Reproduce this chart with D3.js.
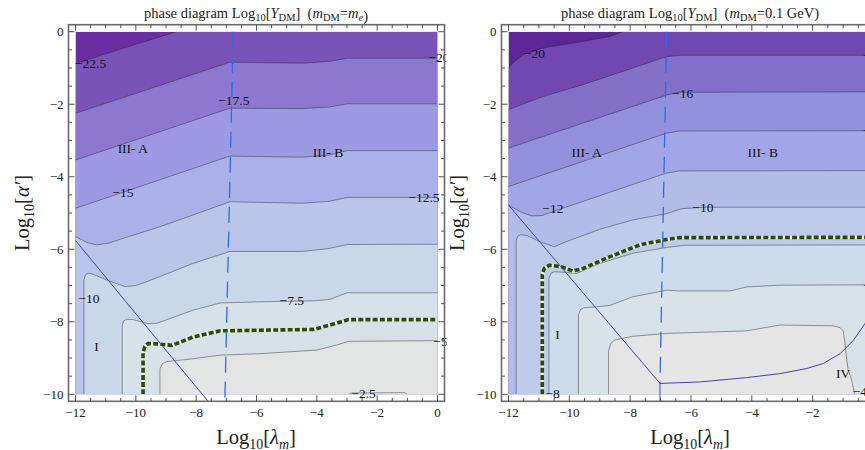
<!DOCTYPE html>
<html>
<head>
<meta charset="utf-8">
<script src="https://d3js.org/d3.v7.min.js"></script>
<style>
body { margin: 0; background: #fff; }
svg { display: block; font-family: "Liberation Serif", "DejaVu Serif", serif; }
</style>
</head>
<body>
<svg id="chart" width="865" height="450"></svg>
<script>
// ---------- data (log10 lambda_m , log10 alpha') ----------
const lambdaTicks = [-12, -10, -8, -6, -4, -2, 0];
const alphaTicks = [0, -2, -4, -6, -8, -10];

// left panel: m_DM = m_e, contour levels -22.5 ... -2.5
const leftLevels = [-22.5, -20, -17.5, -15, -12.5, -10, -7.5, -5, -2.5];
const leftColors = ['#6a2ea2', '#7a53b8', '#8c78d0', '#9d9ae3', '#acb0e8', '#bbc5ea', '#c9d7ea', '#d6e1e9', '#e2e5e4', '#e9e6dd'];
const leftC225 = [[-12, -0.88], [-10.5, -0.48], [-9.5, -0.22], [-8.65, 0]];
const leftC20 = [[-12, -2.25], [-6.88, -0.84], [-4.5, -0.87], [-3.6, -0.82], [-3.0, -0.73], [0, -0.73]];
const leftC175 = [[-12, -3.54], [-6.88, -2.11], [-4.5, -2.12], [-3.6, -2.08], [-3.0, -1.99], [0, -1.99]];
const leftC15 = [[-12, -4.87], [-6.88, -3.43], [-4.5, -3.46], [-3.6, -3.4], [-3.0, -3.28], [0, -3.28]];
const leftC125 = [[-12, -5.65], [-11.6, -5.82], [-11.3, -5.88], [-10.9, -5.83], [-10.5, -5.72], [-9.2, -5.38],
  [-6.88, -4.69], [-4.5, -4.73], [-3.6, -4.68], [-3.0, -4.57], [0, -4.57]];
const leftC10 = [[-11.72, -10], [-11.72, -6.85], [-11.68, -6.72], [-11.6, -6.66], [-11.45, -6.68], [-10.8, -6.9],
  [-10.35, -7.03], [-10.0, -7.0], [-9.65, -6.9], [-8.1, -6.39], [-6.88, -6.06], [-4.5, -6.06], [-3.6, -5.98],
  [-3.0, -5.87], [0, -5.86]];
const leftC75 = [[-10.45, -10], [-10.45, -8.1], [-10.4, -7.97], [-10.3, -7.93], [-10.1, -7.94], [-9.6, -8.05],
  [-9.3, -8.04], [-8.1, -7.68], [-7.2, -7.48], [-5.9, -7.45], [-4.0, -7.42], [-3.56, -7.38], [-3.0, -7.2], [0, -7.2]];
const leftC5 = [[-9.2, -10], [-9.2, -9.3], [-9.12, -9.16], [-8.98, -9.1], [-8.1, -9.02], [-7.2, -8.92], [-5.88, -8.88],
  [-4.0, -8.78], [-3.3, -8.63], [-2.95, -8.54], [0, -8.52]];
const leftC25 = [[-2.95, -10], [-2.85, -9.965], [-1.1, -9.955], [-1.0, -10]];
const leftObserved = [[-9.76, -10], [-9.76, -8.85], [-9.7, -8.68], [-9.6, -8.6], [-9.3, -8.61], [-8.8, -8.65],
  [-8.1, -8.42], [-7.2, -8.25], [-4.1, -8.21], [-3.56, -8.09], [-2.95, -7.94], [0, -7.94]];
const leftBoundary = [[-12, -5.76], [-7.55, -10.25]];
const leftDivider = [[-6.77, 0], [-7.05, -10.2]];
const leftLabels = [
  { t: '\u221222.5', x: -11.5, y: -0.87 }, { t: '\u221220', x: 0.05, y: -0.7 },
  { t: '\u221217.5', x: -6.75, y: -1.9 }, { t: '\u221215', x: -10.43, y: -4.44 },
  { t: '\u221212.5', x: -0.45, y: -4.57 }, { t: '\u221210', x: -11.55, y: -7.36 },
  { t: '\u22127.5', x: -4.83, y: -7.4 }, { t: '\u22125', x: 0.1, y: -8.55 },
  { t: '\u22122.5', x: -2.45, y: -9.97 }
];
const leftRegions = [
  { t: 'III- A', x: -10.1, y: -3.21 }, { t: 'III- B', x: -3.63, y: -3.32 }, { t: 'I', x: -11.3, y: -8.67 }
];

// right panel: m_DM = 0.1 GeV, contour levels -20 ... -4
const rightLevels = [-20, -18, -16, -14, -12, -10, -8, -6, -4];
const rightColors = ['#5e2597', '#7247b0', '#8270c9', '#9390dd', '#a3a6e6', '#b3bbe9', '#bfcbea', '#cddbea', '#d9e2e8', '#e4e5e4'];
const rightC20 = [[-12, -1.0], [-11.8, -0.82], [-11.53, -0.64], [-10.87, -0.45], [-9.55, -0.27], [-8.67, -0.13], [-8.24, 0]];
const rightC18 = [[-12, -2.15], [-10.87, -1.79], [-9.55, -1.46], [-7.91, -1.0], [-6.81, -0.69], [-6.37, -0.65], [0, -0.65]];
const rightC16 = [[-12, -3.21], [-6.81, -1.75], [-6.4, -1.67], [0, -1.66]];
const rightC14 = [[-12, -4.27], [-6.81, -2.8], [-6.4, -2.74], [0, -2.73]];
const rightC12 = [[-12, -4.78], [-11.6, -4.97], [-11.25, -5.08], [-10.9, -5.07], [-10.5, -4.95], [-6.81, -3.9],
  [-6.4, -3.84], [0, -3.83]];
const rightC10 = [[-11.75, -10], [-11.75, -5.78], [-11.7, -5.65], [-11.6, -5.6], [-11.4, -5.62], [-11.0, -5.78],
  [-10.5, -5.93], [-10.1, -5.79], [-9.0, -5.45], [-7.91, -5.19], [-6.81, -5.02], [-6.3, -4.88], [-5.5, -4.84], [0, -4.84]];
const rightC8 = [[-10.67, -10], [-10.67, -6.8], [-10.6, -6.66], [-10.5, -6.62], [-10.1, -6.64], [-9.77, -6.67],
  [-9.0, -6.39], [-7.91, -6.11], [-6.81, -5.95], [-6.2, -5.89], [0, -5.88]];
const rightC6 = [[-9.7, -10], [-9.7, -7.8], [-9.63, -7.66], [-9.5, -7.61], [-9.11, -7.59], [-8.68, -7.55],
  [-7.91, -7.31], [-6.81, -7.13], [-6.37, -7.15], [-4.72, -7.15], [-4.17, -7.04], [-3.08, -6.99], [0, -6.98]];
const rightC4 = [[-8.71, -10], [-8.71, -8.8], [-8.64, -8.6], [-8.5, -8.5], [-7.91, -8.4], [-6.81, -8.32],
  [-4.17, -8.25], [-3.62, -8.17], [-3.08, -8.09], [-1.33, -8.11], [-1.1, -8.16], [-1.0, -8.25], [-0.95, -8.5],
  [-0.89, -8.97], [-0.84, -9.3], [-0.72, -9.61], [-0.62, -10]];
const rightObserved = [[-10.89, -10], [-10.89, -6.7], [-10.82, -6.52], [-10.65, -6.44], [-10.27, -6.48],
  [-9.88, -6.6], [-9.55, -6.53], [-8.68, -6.21], [-7.69, -5.88], [-6.81, -5.73], [-6.37, -5.68], [0, -5.67]];
const rightBoundary = [[-12, -4.78], [-7.02, -9.7], [-5.72, -9.66], [-4.17, -9.54], [-3.08, -9.43], [-2.2, -9.29],
  [-1.65, -9.15], [-1.1, -8.88], [-0.66, -8.51], [-0.28, -8.05], [0, -7.65]];
const rightStem = [[-7.02, -9.7], [-7.02, -10.2]];
const rightDivider = [[-6.8, 0], [-7.02, -9.7]];
const rightLabels = [
  { t: '\u221220', x: -11.15, y: -0.59 }, { t: '\u221218', x: 0, y: -0.66 },
  { t: '\u221216', x: -6.27, y: -1.69 }, { t: '\u221214', x: 0, y: -2.73 },
  { t: '\u221212', x: -10.54, y: -4.87 }, { t: '\u221210', x: -5.61, y: -4.84 },
  { t: '\u22128', x: -10.55, y: -9.97 }, { t: '\u22126', x: -0.1, y: -6.98 },
  { t: '\u22124', x: -0.45, y: -9.91 }
];
const rightRegions = [
  { t: 'III- A', x: -9.43, y: -3.32 }, { t: 'III- B', x: -3.64, y: -3.32 },
  { t: 'I', x: -10.39, y: -8.34 }, { t: 'IV', x: -1.0, y: -9.41 }
];

// ---------- drawing ----------
const svg = d3.select('#chart');
const defs = svg.append('defs');
const PAD = 7;

// close a contour on the higher-value side by walking the plot border clockwise
function closeRegion(pts) {
  const xmin = -12, xmax = 0, ymin = -10, ymax = 0;
  const W = xmax - xmin, H = ymax - ymin, P = 2 * W + 2 * H;
  function t(p) {
    const d = [Math.abs(p[1] - ymax), Math.abs(p[0] - xmax), Math.abs(p[1] - ymin), Math.abs(p[0] - xmin)];
    const e = d.indexOf(Math.min(...d));
    if (e === 0) return p[0] - xmin;
    if (e === 1) return W + (ymax - p[1]);
    if (e === 2) return W + H + (xmax - p[0]);
    return 2 * W + H + (p[1] - ymin);
  }
  const corners = [[xmax, ymax, W], [xmax, ymin, W + H], [xmin, ymin, 2 * W + H], [xmin, ymax, 0]];
  const te = t(pts[pts.length - 1]), ts = t(pts[0]);
  const span = (ts - te + P) % P;
  const extra = corners
    .map(c => [c[0], c[1], (c[2] - te + P) % P])
    .filter(c => c[2] > 0 && c[2] < span)
    .sort((a, b) => a[2] - b[2])
    .map(c => [c[0], c[1]]);
  return pts.concat(extra);
}

function drawPanel(o) {
  const x = d3.scaleLinear().domain([-12, 0]).range(o.xRange);
  const y = d3.scaleLinear().domain([-10, 0]).range([394.3, 31.7]);
  const line = d3.line().x(d => x(d[0])).y(d => y(d[1]));
  const dx0 = x(-12), dx1 = x(0), dy0 = y(0), dy1 = y(-10);
  const fx0 = dx0 - PAD, fx1 = dx1 + PAD, fy0 = dy0 - PAD, fy1 = dy1 + PAD;

  defs.append('clipPath').attr('id', o.id + '-data')
    .append('rect').attr('x', dx0).attr('y', dy0).attr('width', dx1 - dx0).attr('height', dy1 - dy0);
  defs.append('clipPath').attr('id', o.id + '-frame')
    .append('rect').attr('x', fx0).attr('y', fy0).attr('width', fx1 - fx0 + 2).attr('height', fy1 - fy0);

  const g = svg.append('g');
  const body = g.append('g').attr('clip-path', `url(#${o.id}-data)`);

  // bands
  body.append('rect').attr('x', dx0).attr('y', dy0).attr('width', dx1 - dx0).attr('height', dy1 - dy0)
    .attr('fill', o.colors[0]);
  body.selectAll('path.band').data(o.contours).join('path')
    .attr('class', 'band')
    .attr('d', c => line(closeRegion(c)) + 'Z')
    .attr('fill', (c, i) => o.colors[i + 1]);
  body.selectAll('path.iso').data(o.contours).join('path')
    .attr('class', 'iso')
    .attr('d', line)
    .attr('fill', 'none')
    .attr('stroke', 'rgba(40,40,40,0.5)')
    .attr('stroke-width', 0.9);

  // observed relic abundance line
  body.append('path').attr('d', line(o.observed)).attr('fill', 'none')
    .attr('stroke', '#eef0e2').attr('stroke-width', 3.6);
  body.append('path').attr('d', line(o.observed)).attr('fill', 'none')
    .attr('stroke', '#2c4a0c').attr('stroke-width', 3.6).attr('stroke-dasharray', '5,2.2');

  // region boundaries
  const over = g.append('g').attr('clip-path', `url(#${o.id}-frame)`);
  over.append('path').attr('d', line(o.divider)).attr('fill', 'none')
    .attr('stroke', '#2f6bf0').attr('stroke-width', 1.3).attr('stroke-dasharray', '16,9');
  o.boundaries.forEach(b => {
    over.append('path').attr('d', line(b)).attr('fill', 'none')
      .attr('stroke', '#4242b0').attr('stroke-width', 1);
  });

  // contour labels
  over.selectAll('text.clab').data(o.labels).join('text')
    .attr('class', 'clab')
    .attr('x', d => x(d.x)).attr('y', d => y(d.y))
    .attr('dy', '0.35em')
    .attr('text-anchor', 'middle')
    .attr('font-size', 13.5)
    .attr('fill', '#111')
    .text(d => d.t);
  over.selectAll('text.rlab').data(o.regions).join('text')
    .attr('class', 'rlab')
    .attr('x', d => x(d.x)).attr('y', d => y(d.y))
    .attr('dy', '0.35em')
    .attr('text-anchor', 'middle')
    .attr('font-size', 13.5)
    .attr('fill', '#111')
    .text(d => d.t);

  // frame
  g.append('rect').attr('x', fx0).attr('y', fy0).attr('width', fx1 - fx0).attr('height', fy1 - fy0)
    .attr('fill', 'none').attr('stroke', '#6a6a6a').attr('stroke-width', 1.6);

  const xt = d3.range(-12, 0.001, 0.5);
  const yt = d3.range(-10, 0.001, 0.5);
  const isMajor = v => Math.abs(v % 2) < 1e-6;
  const ticks = g.append('g').attr('stroke', '#555').attr('stroke-width', 1);
  xt.forEach(v => {
    const len = isMajor(v) ? 6 : 3.5;
    ticks.append('line').attr('x1', x(v)).attr('x2', x(v)).attr('y1', fy1).attr('y2', fy1 - len);
    ticks.append('line').attr('x1', x(v)).attr('x2', x(v)).attr('y1', fy0).attr('y2', fy0 + len);
  });
  yt.forEach(v => {
    const len = isMajor(v) ? 6 : 3.5;
    ticks.append('line').attr('x1', fx0).attr('x2', fx0 + len).attr('y1', y(v)).attr('y2', y(v));
    ticks.append('line').attr('x1', fx1).attr('x2', fx1 - len).attr('y1', y(v)).attr('y2', y(v));
  });

  const fmt = v => (v < 0 ? '\u2212' + Math.abs(v) : String(v));
  g.selectAll('text.xtl').data(lambdaTicks).join('text')
    .attr('class', 'xtl')
    .attr('x', d => x(d)).attr('y', fy1 + 16)
    .attr('text-anchor', 'middle').attr('font-size', 13).attr('fill', '#222')
    .text(fmt);
  g.selectAll('text.ytl').data(alphaTicks).join('text')
    .attr('class', 'ytl')
    .attr('x', fx0 - 5).attr('y', d => y(d)).attr('dy', '0.35em')
    .attr('text-anchor', 'end').attr('font-size', 13).attr('fill', '#222')
    .text(fmt);

  // title
  const cx = o.titleX;
  const title = g.append('text').attr('x', cx).attr('y', 18).attr('text-anchor', 'middle')
    .attr('font-size', 14.5).attr('fill', '#222');
  title.append('tspan').text('phase diagram Log');
  title.append('tspan').attr('font-size', 10.5).attr('dy', 3).text('10');
  title.append('tspan').attr('dy', -3).text('[');
  title.append('tspan').attr('font-style', 'italic').text('Y');
  title.append('tspan').attr('font-size', 10.5).attr('dy', 3).text('DM');
  title.append('tspan').attr('dy', -3).text(']\u00a0\u00a0(');
  title.append('tspan').attr('font-style', 'italic').text('m');
  title.append('tspan').attr('font-size', 10.5).attr('dy', 3).text('DM');
  title.append('tspan').attr('dy', -3).text('=');
  o.massLabel(title);
  title.append('tspan').text(')');

  // axis labels
  const xl = g.append('text').attr('x', cx).attr('y', 444).attr('text-anchor', 'middle')
    .attr('font-size', 20.5).attr('fill', '#222');
  xl.append('tspan').text('Log');
  xl.append('tspan').attr('font-size', 14).attr('dy', 4.5).text('10');
  xl.append('tspan').attr('dy', -4.5).text('[');
  xl.append('tspan').attr('font-style', 'italic').text('\u03bb');
  xl.append('tspan').attr('font-style', 'italic').attr('font-size', 14).attr('dy', 4.5).text('m');
  xl.append('tspan').attr('dy', -4.5).text(']');

  const yl = g.append('text').attr('transform', `translate(${o.yLabelX},213) rotate(-90)`)
    .attr('text-anchor', 'middle').attr('font-size', 20.5).attr('fill', '#222');
  yl.append('tspan').text('Log');
  yl.append('tspan').attr('font-size', 14).attr('dy', 4.5).text('10');
  yl.append('tspan').attr('dy', -4.5).text('[');
  yl.append('tspan').attr('font-style', 'italic').text('\u03b1\u2032');
  yl.append('tspan').text(']');
}

drawPanel({
  id: 'left',
  xRange: [75.5, 437.5],
  colors: leftColors,
  contours: [leftC225, leftC20, leftC175, leftC15, leftC125, leftC10, leftC75, leftC5, leftC25],
  observed: leftObserved,
  divider: leftDivider,
  boundaries: [leftBoundary],
  labels: leftLabels,
  regions: leftRegions,
  titleX: 256,
  yLabelX: 29,
  massLabel: t => {
    t.append('tspan').attr('font-style', 'italic').text('m');
    t.append('tspan').attr('font-style', 'italic').attr('font-size', 10.5).attr('dy', 3).text('e');
    t.append('tspan').attr('dy', -3).text('');
  }
});

drawPanel({
  id: 'right',
  xRange: [508.5, 873.5],
  colors: rightColors,
  contours: [rightC20, rightC18, rightC16, rightC14, rightC12, rightC10, rightC8, rightC6, rightC4],
  observed: rightObserved,
  divider: rightDivider,
  boundaries: [rightBoundary, rightStem],
  labels: rightLabels,
  regions: rightRegions,
  titleX: 690,
  yLabelX: 464,
  massLabel: t => { t.append('tspan').text('0.1 GeV'); }
});
</script>
</body>
</html>
